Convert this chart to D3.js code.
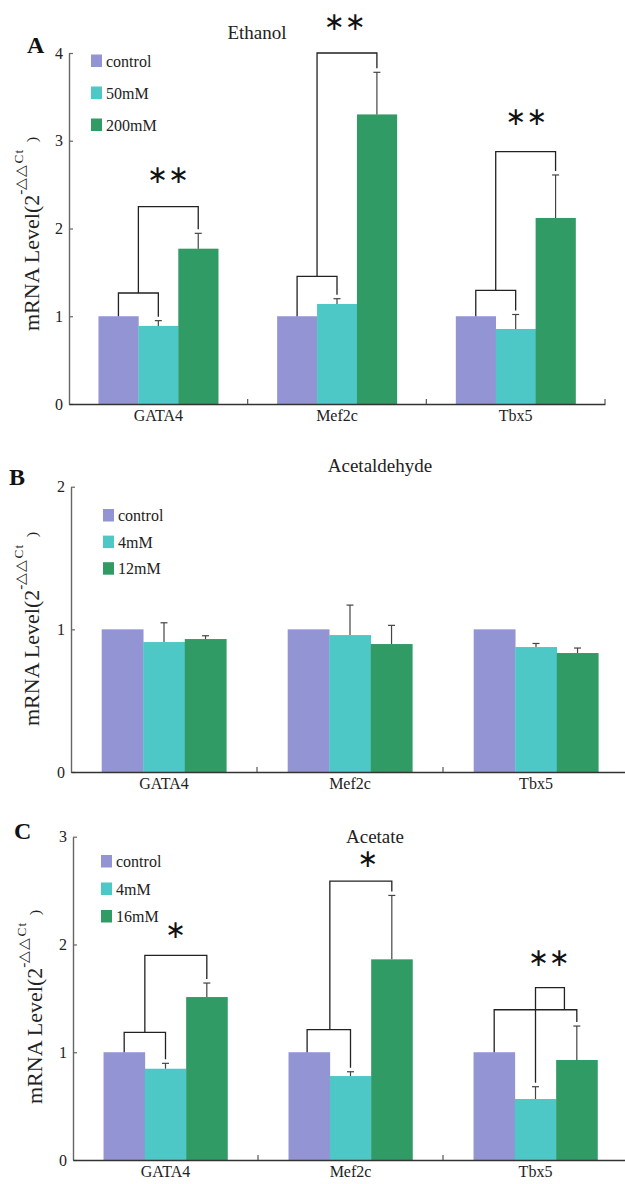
<!DOCTYPE html>
<html>
<head>
<meta charset="utf-8">
<script src="https://cdn.jsdelivr.net/npm/d3@7"></script>
<style>
  body { margin: 0; background: #fff; }
  svg { display: block; font-family: "Liberation Serif", "Times New Roman", serif; }
</style>
</head>
<body>
<svg id="chart" width="625" height="1184"></svg>
<script>
// gene categories shared by all panels
const categories = ["GATA4", "Mef2c", "Tbx5"];
const colors = ["#9394d4", "#4dc8c6", "#319b66"];

// A: ethanol
const ethanolGroups = ["control", "50mM", "200mM"];
const ethanolControl = [1, 1, 1];
const ethanolLow = [0.89, 1.14, 0.855];
const ethanolHigh = [1.77, 3.30, 2.12];
const ethanolLowErr = [0.06, 0.06, 0.165];
const ethanolHighErr = [0.175, 0.48, 0.49];
const ethanolTicks = [0, 1, 2, 3, 4];

// B: acetaldehyde
const acetaldehydeGroups = ["control", "4mM", "12mM"];
const acetaldehydeControl = [1, 1, 1];
const acetaldehydeLow = [0.911, 0.96, 0.876];
const acetaldehydeHigh = [0.932, 0.897, 0.834];
const acetaldehydeLowErr = [0.135, 0.21, 0.025];
const acetaldehydeHighErr = [0.023, 0.131, 0.035];
const acetaldehydeTicks = [0, 1, 2];

// C: acetate
const acetateGroups = ["control", "4mM", "16mM"];
const acetateControl = [1, 1, 1];
const acetateLow = [0.847, 0.779, 0.566];
const acetateHigh = [1.512, 1.862, 0.928];
const acetateLowErr = [0.05, 0.04, 0.114];
const acetateHighErr = [0.13, 0.593, 0.315];
const acetateTicks = [0, 1, 2, 3];

// significance brackets: positions in bar units (0,1,2 = bar centres), level in data units
const ethanolBrackets = [
  {cat: 0, a: 0, b: 1, level: 1.265},
  {cat: 0, a: 0.5, b: 2, level: 2.25, aTo: 1.265},
  {cat: 1, a: 0, b: 1, level: 1.455},
  {cat: 1, a: 0.5, b: 2, level: 4.0, aTo: 1.455},
  {cat: 2, a: 0, b: 1, level: 1.295},
  {cat: 2, a: 0.5, b: 2, level: 2.875, aTo: 1.295}
];
const ethanolStars = [
  {cat: 0, pos: 1.25, level: 2.63, text: "**"},
  {cat: 1, pos: 1.2, level: 4.38, text: "**"},
  {cat: 2, pos: 1.27, level: 3.29, text: "**"}
];

const acetateBrackets = [
  {cat: 0, a: 0, b: 1, level: 1.184},
  {cat: 0, a: 0.5, b: 2, level: 1.899, aTo: 1.184},
  {cat: 1, a: -0.05, b: 1, level: 1.209},
  {cat: 1, a: 0.5, b: 2, level: 2.588, aTo: 1.209},
  {cat: 2, a: 0, b: 2, level: 1.394},
  {cat: 2, a: 1, b: 1.7, level: 1.6, bTo: 1.394}
];
const acetateStars = [
  {cat: 0, pos: 1.25, level: 2.15, text: "*"},
  {cat: 1, pos: 1.42, level: 2.81, text: "*"},
  {cat: 2, pos: 1.33, level: 1.89, text: "**"}
];

const svg = d3.select("#chart");

function drawPanel(p) {
  const g = svg.append("g");

  const x = d3.scaleBand()
      .domain(categories)
      .range([p.left, p.right])
      .paddingInner(0.33)
      .paddingOuter(0.165);

  const xi = d3.scaleBand()
      .domain(d3.range(p.series.length))
      .range([0, x.bandwidth()]);

  const y = d3.scaleLinear()
      .domain([0, p.max])
      .range([p.bottom, p.top]);

  // bars
  p.series.forEach((vals, s) => {
    g.selectAll(null)
      .data(vals)
      .join("rect")
      .attr("x", (d, i) => x(categories[i]) + xi(s))
      .attr("y", d => y(d))
      .attr("width", xi.bandwidth() + 0.3)
      .attr("height", d => y(0) - y(d))
      .attr("fill", colors[s]);
  });

  // error bars
  const barTop = (c, s) => p.series[s][c] + (p.errors[s] ? p.errors[s][c] : 0);
  p.errors.forEach((errs, s) => {
    if (!errs) return;
    errs.forEach((e, c) => {
      const cx = x(categories[c]) + xi(s) + xi.bandwidth() / 2;
      const y0 = y(p.series[s][c]), y1 = y(p.series[s][c] + e);
      g.append("line").attr("x1", cx).attr("x2", cx).attr("y1", y0).attr("y2", y1)
        .attr("stroke", "#444").attr("stroke-width", 1.2);
      g.append("line").attr("x1", cx - 3.5).attr("x2", cx + 3.5).attr("y1", y1).attr("y2", y1)
        .attr("stroke", "#444").attr("stroke-width", 1.2);
    });
  });

  // significance brackets
  const posX = (c, pos) => x(categories[c]) + xi.bandwidth() * (pos + 0.5);
  const legEnd = (c, pos, to) => {
    if (to !== undefined) return y(to);
    const s = Math.round(pos);
    const hasErr = p.errors[s] && p.errors[s][c] > 0;
    return y(barTop(c, s)) - (hasErr ? 4 : 0);
  };
  (p.brackets || []).forEach(b => {
    const xa = posX(b.cat, b.a), xb = posX(b.cat, b.b), yl = y(b.level);
    const path = d3.path();
    path.moveTo(xa, legEnd(b.cat, b.a, b.aTo));
    path.lineTo(xa, yl);
    path.lineTo(xb, yl);
    path.lineTo(xb, legEnd(b.cat, b.b, b.bTo));
    g.append("path").attr("d", path.toString())
      .attr("fill", "none").attr("stroke", "#222").attr("stroke-width", 1.3);
  });

  // stars, one text per annotation
  g.selectAll(null)
    .data(p.stars || [])
    .join("text")
    .attr("x", st => posX(st.cat, st.pos))
    .attr("y", st => y(st.level) + 10)
    .attr("text-anchor", "middle")
    .style("font-family", "'DejaVu Sans', sans-serif")
    .style("font-size", "25px")
    .attr("fill", "#111")
    .text(st => st.text.replace(/\*/g, "\u2217"));

  // y axis
  const yAxis = g.append("g")
      .attr("transform", `translate(${p.left},0)`)
      .call(d3.axisLeft(y).tickValues(p.ticks).tickFormat(d3.format("d"))
        .tickSize(-4).tickSizeOuter(0).tickPadding(6));
  yAxis.select(".domain").attr("stroke", "#666").attr("stroke-width", 1.4);
  yAxis.selectAll(".tick line").attr("stroke", "#666").attr("stroke-width", 1.2);
  yAxis.selectAll("text").style("font-family", "'Liberation Serif', serif")
    .style("font-size", "16px").attr("fill", "#222");

  // x axis with labels under each gene, ticks at the group boundaries
  const xAxis = g.append("g")
      .attr("transform", `translate(0,${p.bottom})`)
      .call(d3.axisBottom(x).tickSize(0).tickSizeOuter(0).tickPadding(p.labelPad));
  xAxis.select(".domain").attr("stroke", "#333").attr("stroke-width", 1.4);
  xAxis.selectAll("text").style("font-family", "'Liberation Serif', serif")
    .style("font-size", "16px").attr("fill", "#222");
  g.selectAll(null)
    .data(d3.range(1, categories.length + 1))
    .join("line")
    .attr("x1", i => p.left + x.step() * i)
    .attr("x2", i => p.left + x.step() * i)
    .attr("y1", p.bottom)
    .attr("y2", p.bottom - 5)
    .attr("stroke", "#555")
    .attr("stroke-width", 1.2);

  // legend
  const leg = g.append("g").attr("transform", `translate(${p.legendX},${p.legendY})`);
  p.groups.forEach((name, s) => {
    const row = leg.append("g").attr("transform", `translate(0,${s * p.legendStep})`);
    row.append("rect").attr("width", 11).attr("height", 12.5).attr("fill", colors[s]);
    row.append("text").attr("x", 15).attr("y", 12)
      .style("font-size", "16px").attr("fill", "#222").text(name);
  });

  // title
  g.append("text")
    .attr("x", p.titleX).attr("y", p.titleY)
    .attr("text-anchor", "middle")
    .style("font-size", "19px").attr("fill", "#222")
    .text(p.title);

  // panel letter
  g.append("text")
    .attr("x", p.letterX).attr("y", p.letterY)
    .style("font-size", "24px").style("font-weight", "bold").attr("fill", "#111")
    .text(p.letter);

  // y axis label
  const yl = g.append("text")
    .attr("transform", `translate(${p.ylabelX},${p.ylabelY}) rotate(-90) scale(1.1,1)`)
    .style("font-size", "20px").attr("fill", "#222");
  yl.append("tspan").text("mRNA Level(2");
  yl.append("tspan").attr("dy", -14).style("font-size", "14px").text("-\u25B3\u25B3");
  yl.append("tspan").attr("dy", -2).attr("dx", 1).style("font-size", "12px")
    .style("letter-spacing", "1px").text("Ct");
  yl.append("tspan").attr("dy", 14).attr("dx", 6).style("font-size", "15px").text(")");
}

drawPanel({
  left: 69, right: 605, top: 53, bottom: 404, max: 4, ticks: ethanolTicks,
  series: [ethanolControl, ethanolLow, ethanolHigh],
  errors: [null, ethanolLowErr, ethanolHighErr],
  groups: ethanolGroups, brackets: ethanolBrackets, stars: ethanolStars,
  legendX: 91, legendY: 54.5, legendStep: 32,
  title: "Ethanol", titleX: 257, titleY: 39,
  letter: "A", letterX: 27, letterY: 53,
  ylabelX: 39, ylabelY: 331, labelPad: 6
});

drawPanel({
  left: 71, right: 629, top: 486.7, bottom: 772, max: 2, ticks: acetaldehydeTicks,
  series: [acetaldehydeControl, acetaldehydeLow, acetaldehydeHigh],
  errors: [null, acetaldehydeLowErr, acetaldehydeHighErr],
  groups: acetaldehydeGroups,
  legendX: 103, legendY: 509, legendStep: 26.6,
  title: "Acetaldehyde", titleX: 380, titleY: 472,
  letter: "B", letterX: 9, letterY: 485,
  ylabelX: 39, ylabelY: 726, labelPad: 6
});

drawPanel({
  left: 73, right: 628, top: 836.7, bottom: 1160, max: 3, ticks: acetateTicks,
  series: [acetateControl, acetateLow, acetateHigh],
  errors: [null, acetateLowErr, acetateHighErr],
  groups: acetateGroups, brackets: acetateBrackets, stars: acetateStars,
  legendX: 101, legendY: 855, legendStep: 27.5,
  title: "Acetate", titleX: 375, titleY: 843,
  letter: "C", letterX: 14, letterY: 839,
  ylabelX: 42, ylabelY: 1104, labelPad: 6
});
</script>
</body>
</html>
